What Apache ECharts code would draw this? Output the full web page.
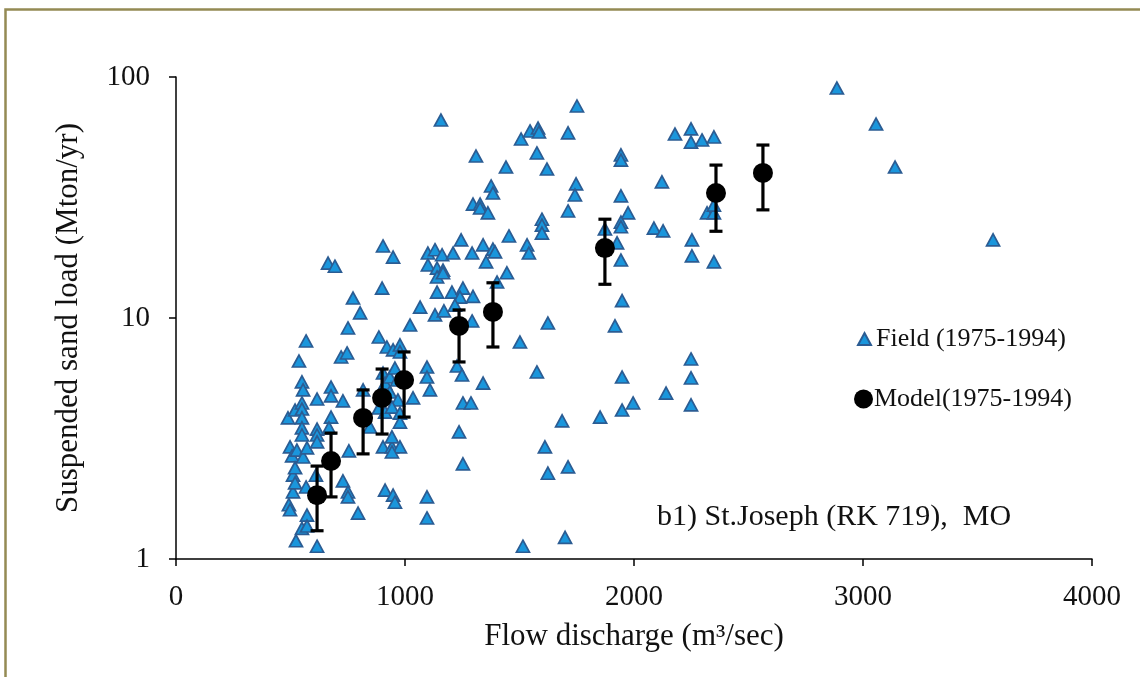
<!DOCTYPE html>
<html>
<head>
<meta charset="utf-8">
<script src="https://cdn.jsdelivr.net/npm/echarts@6/dist/echarts.min.js"></script>
<style>
html,body{margin:0;padding:0;background:#fff;}
#c{width:1140px;height:677px;}
</style>
</head>
<body>
<div id="c"></div>
<script>
// Field observations (flow discharge m3/sec, suspended sand load Mton/yr)
const fieldQ = [489,498,507,493,498,511,520,511,520,524,520,528,537,550,555,550,550,550,550,550,555,572,568,572,550,572,611,616,616,616,616,616,568,
664,694,677,677,729,677,668,755,729,751,751,795,773,804,751,721,747,
904,948,900,886,921,948,978,978,817,847,904,913,934,956,965,934,969,886,913,943,978,978,904,943,978,943,913,948,956,943,
1035,1022,1066,1096,1096,1109,1096,1096,1100,1131,1162,1100,1140,1166,1140,1166,1140,1131,1170,1157,
1205,1253,1240,1297,1218,1210,1245,1293,1297,1328,1328,1362,1310,1227,1249,1236,1253,1253,1288,1293,
1341,1384,1393,1354,1402,1376,1384,1341,1445,1454,1441,1502,
1507,1546,1581,1585,1576,1620,1533,1541,1598,1598,1598,1576,1624,1611,1624,1515,1712,1699,
1712,1751,1747,1742,1712,1686,1852,1873,1926,1917,
1943,1943,1943,1974,1943,1943,1943,1948,1948,1948,1996,2122,2087,2127,2179,2249,2249,2297,2349,2319,2349,2349,2253,2253,2349,2249,2249,2249,2140,
2886,3057,3140,3568];
const fieldLoad = [3.85,2.92,2.68,1.68,1.60,2.23,2.39,1.90,2.07,1.19,4.15,2.83,6.63,5.43,5.03,4.44,4.19,3.85,3.50,3.27,2.65,2.89,1.99,1.52,1.34,1.37,2.23,4.61,3.46,3.27,3.06,1.13,8.03,
16.9,16.4,5.17,4.75,4.53,3.88,3.50,2.81,2.11,1.90,1.81,1.55,12.1,10.5,9.09,6.89,7.16,
19.9,17.9,13.3,8.34,7.58,7.37,7.73,7.23,5.03,3.53,5.91,5.37,5.69,6.20,5.53,4.93,4.57,4.23,4.07,4.27,4.03,3.70,2.92,2.92,2.92,2.78,1.93,1.84,1.72,3.21,
4.66,9.35,11.1,6.26,5.69,5.03,1.81,1.48,18.6,19.2,18.3,16.6,16.1,15.8,14.8,15.4,12.8,10.3,10.7,66.3,
12.8,13.3,12.2,12.3,11.3,18.6,21.1,18.6,29.7,29.7,28.6,27.3,47.0,6.32,5.80,3.37,2.48,4.44,4.44,9.72,
20.1,19.3,18.8,17.1,14.1,35.3,33.0,5.37,15.4,21.9,42.3,7.95,
55.3,59.7,61.4,59.1,48.4,41.5,20.1,18.6,25.7,24.3,22.5,5.97,9.53,2.92,2.27,1.13,2.41,1.23,
58.6,75.8,36.0,32.4,27.8,3.74,3.88,23.4,20.5,9.27,
47.5,45.2,32.1,27.3,25.0,23.9,17.4,11.8,5.69,4.15,4.44,36.7,23.6,23.0,58.0,60.9,53.7,54.8,56.4,27.3,27.3,29.4,21.1,18.1,17.1,6.76,5.64,4.36,4.88,
90.0,63.8,42.3,21.1];

// Model results with error range
const modelQ    = [616,677,817,900,996,1236,1384,1873,2358,2563];
const modelLoad = [1.84,2.55,3.85,4.66,5.53,9.27,10.6,19.5,33.0,40.0];
const modelLow  = [1.31,1.81,2.73,3.30,3.88,6.57,7.58,13.8,22.9,28.1];
const modelHigh = [2.43,3.33,5.03,6.14,7.23,10.8,14.0,25.7,43.1,52.2];

const xTicks = [0,1000,2000,3000,4000];
const yTicks = [1,10,100];

const fieldName = 'Field (1975-1994)';
const modelName = 'Model(1975-1994)';
const annotation = 'b1) St.Joseph (RK 719),  MO';

const FONT = '"Liberation Serif", "Times New Roman", serif';
const TXT = '#111';

const chart = echarts.init(document.getElementById('c'), null, {renderer:'canvas'});

const option = {
  animation: false,
  backgroundColor: '#ffffff',
  grid: {left:176, right:48, top:77, bottom:118, containLabel:false},
  xAxis: {
    type:'value', min:xTicks[0], max:xTicks[xTicks.length-1], interval:1000,
    name:'Flow discharge (m³/sec)', nameLocation:'middle', nameGap:62,
    nameTextStyle:{fontFamily:FONT, fontSize:31, color:TXT},
    axisLine:{show:true, onZero:false, lineStyle:{color:'#000', width:1.5}},
    axisTick:{show:true, inside:false, length:7, lineStyle:{color:'#000', width:1.5}},
    axisLabel:{margin:24, fontFamily:FONT, fontSize:29, color:TXT, formatter:v=>String(v)},
    splitLine:{show:false}
  },
  yAxis: {
    type:'log', logBase:10, min:yTicks[0], max:yTicks[yTicks.length-1],
    name:'Suspended sand load (Mton/yr)', nameLocation:'middle', nameGap:92, nameRotate:90,
    nameTextStyle:{fontFamily:FONT, fontSize:31, color:TXT},
    axisLine:{show:true, lineStyle:{color:'#000', width:1.5}},
    axisTick:{show:true, inside:false, length:7, lineStyle:{color:'#000', width:1.5}},
    axisLabel:{margin:26, fontFamily:FONT, fontSize:29, color:TXT, formatter:v=>String(Math.round(v))},
    minorTick:{show:false}, splitLine:{show:false}, minorSplitLine:{show:false}
  },
  legend: [
    {data:[{name:fieldName, icon:'triangle'}], left:852, top:321, itemWidth:13, itemHeight:12, itemGap:0,
     textStyle:{fontFamily:FONT, fontSize:26, color:TXT}},
    {data:[{name:modelName, icon:'circle'}], left:849, top:381, itemWidth:19, itemHeight:19, itemGap:0,
     textStyle:{fontFamily:FONT, fontSize:26, color:TXT, padding:[0,0,0,-4]}}
  ],
  graphic: [
    {type:'rect', left:3, top:7, silent:true, z:-1,
     shape:{x:0,y:0,width:1145,height:680}, style:{fill:'none', stroke:'#948A54', lineWidth:2.5}},
    {type:'text', left:657, top:502, style:{text:annotation, fontFamily:FONT, fontSize:30, fill:TXT}}
  ],
  series: [
    {
      name: fieldName, type:'scatter', symbol:'triangle', symbolSize:[13,12], z:2,
      itemStyle:{color:'#1A96DC', borderColor:'#2B5C93', borderWidth:1.7, opacity:1},
      emphasis:{disabled:true},
      data: fieldQ.map((q,i)=>[q, fieldLoad[i]])
    },
    {
      name: 'errors', type:'custom', z:3,
      encode:{x:0, y:[1,2]},
      renderItem: function(params, api){
        const x = api.value(0);
        const pLo = api.coord([x, api.value(1)]);
        const pHi = api.coord([x, api.value(2)]);
        const w = 6.5;
        const st = {stroke:'#000', lineWidth:3.2};
        return {type:'group', children:[
          {type:'line', shape:{x1:pLo[0], y1:pLo[1], x2:pHi[0], y2:pHi[1]}, style:st},
          {type:'line', shape:{x1:pLo[0]-w, y1:pLo[1], x2:pLo[0]+w, y2:pLo[1]}, style:st},
          {type:'line', shape:{x1:pHi[0]-w, y1:pHi[1], x2:pHi[0]+w, y2:pHi[1]}, style:st}
        ]};
      },
      data: modelQ.map((q,i)=>[q, modelLow[i], modelHigh[i]])
    },
    {
      name: modelName, type:'scatter', symbol:'circle', symbolSize:20, z:4,
      itemStyle:{color:'#000', opacity:1},
      emphasis:{disabled:true},
      data: modelQ.map((q,i)=>[q, modelLoad[i]])
    }
  ]
};
chart.setOption(option);
</script>
</body>
</html>
